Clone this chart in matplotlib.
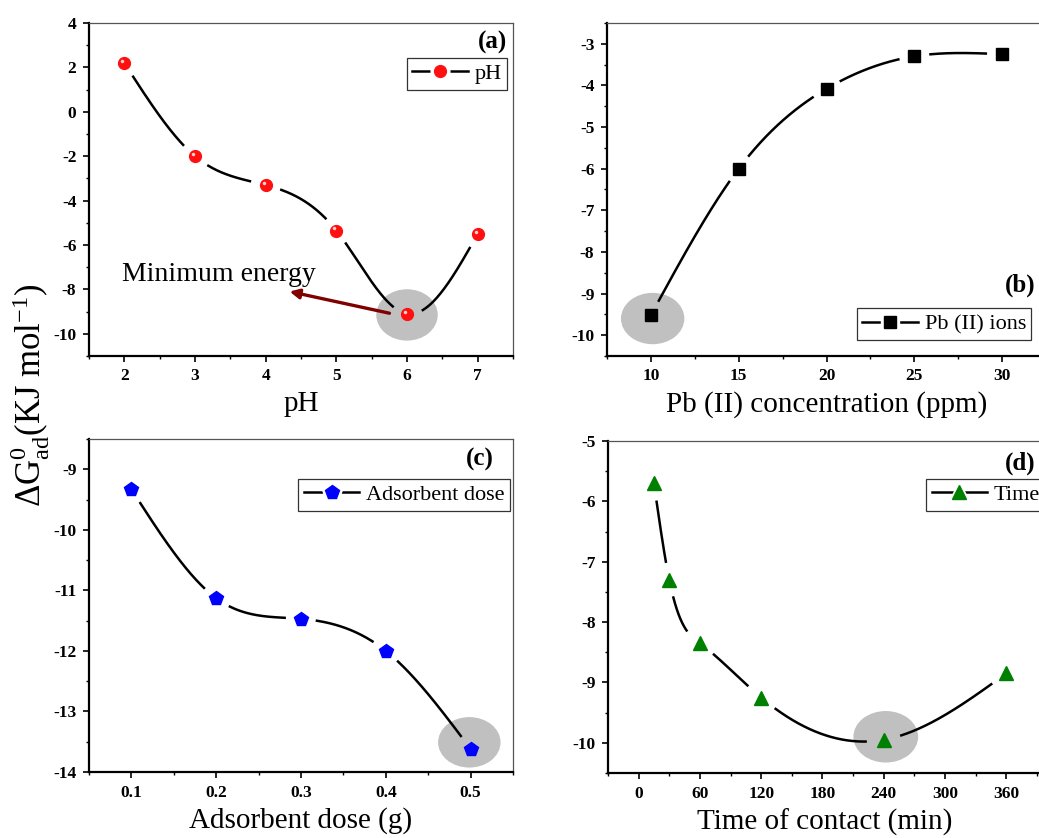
import numpy as np
import matplotlib.pyplot as plt
import matplotlib.transforms as mtransforms
from matplotlib.patches import Ellipse
from matplotlib.lines import Line2D

plt.rcParams['font.family'] = 'Liberation Serif'
plt.rcParams['mathtext.fontset'] = 'custom'
plt.rcParams['mathtext.rm'] = 'Liberation Serif'
plt.rcParams['mathtext.it'] = 'Liberation Serif:italic'
plt.rcParams['mathtext.bf'] = 'Liberation Serif:bold'
plt.rcParams['axes.unicode_minus'] = False

# dados
ph = [2, 3, 4, 5, 6, 7]
g_ph = [2.2, -2.0, -3.3, -5.35, -9.1, -5.5]

pb = [10, 15, 20, 25, 30]
g_pb = [-9.52, -6.0, -4.08, -3.3, -3.25]

dose = [0.1, 0.2, 0.3, 0.4, 0.5]
g_dose = [-9.33, -11.13, -11.47, -12.0, -13.62]

tempo = [15, 30, 60, 120, 240, 360]
g_tempo = [-5.7, -7.3, -8.35, -9.25, -9.95, -8.85]


def spline(x, y, n=800):
    # spline cúbica natural
    x = np.asarray(x, float)
    y = np.asarray(y, float)
    m = len(x)
    h = np.diff(x)
    A = np.zeros((m, m))
    b = np.zeros(m)
    A[0, 0] = A[-1, -1] = 1
    for i in range(1, m - 1):
        A[i, i - 1] = h[i - 1]
        A[i, i] = 2 * (h[i - 1] + h[i])
        A[i, i + 1] = h[i]
        b[i] = 6 * ((y[i + 1] - y[i]) / h[i] - (y[i] - y[i - 1]) / h[i - 1])
    M = np.linalg.solve(A, b)
    xs = np.linspace(x[0], x[-1], n)
    k = np.clip(np.searchsorted(x, xs) - 1, 0, m - 2)
    t0 = xs - x[k]
    t1 = x[k + 1] - xs
    hk = h[k]
    ys = (M[k] * t1 ** 3 + M[k + 1] * t0 ** 3) / (6 * hk) \
        + (y[k] / hk - M[k] * hk / 6) * t1 + (y[k + 1] / hk - M[k + 1] * hk / 6) * t0
    return xs, ys


def painel(ax, x, y, marker, cor, ms, rotulo, leg_loc, leg_anchor, letra, letra_pos, letra_va, gap=16):
    xs, ys = spline(x, y)
    # abre um espaço na linha em volta de cada símbolo (como no Origin)
    tela = ax.transData.transform(np.column_stack([xs, ys]))
    pts_tela = ax.transData.transform(np.column_stack([x, y]))
    dist = np.min(np.hypot(tela[:, None, 0] - pts_tela[None, :, 0],
                           tela[:, None, 1] - pts_tela[None, :, 1]), axis=1)
    ys = np.where(dist < gap, np.nan, ys)
    ax.plot(xs, ys, color='black', lw=1.8, zorder=2)
    pts, = ax.plot(x, y, ls='none', marker=marker, ms=ms, color=cor, mec=cor, zorder=4)
    h_linha = Line2D([], [], color='black', lw=1.8)
    h_branco = Line2D([], [], ls='none', marker=marker, ms=ms + 5, color='white', mec='white')
    h_pts = Line2D([], [], ls='none', marker=marker, ms=ms, color=cor, mec=cor)
    ax.legend([(h_linha, h_branco, h_pts)], [rotulo], loc=leg_loc, bbox_to_anchor=leg_anchor,
              fontsize=16, frameon=True, fancybox=False, edgecolor='black',
              borderaxespad=0, handlelength=2.5, borderpad=0.25, handletextpad=0.3)
    ax.get_legend().get_frame().set_linewidth(0.9)
    ax.text(letra_pos[0], letra_pos[1], letra, transform=ax.transAxes, ha='right', va=letra_va,
            fontsize=18, fontweight='bold')
    ax.tick_params(which='major', direction='out', length=4, width=1.2, labelsize=12.5, pad=5)
    ax.tick_params(which='minor', direction='out', length=2.5, width=1.0)
    for lab in ax.get_xticklabels() + ax.get_yticklabels():
        lab.set_fontweight('bold')
    for s in ['left', 'bottom']:
        ax.spines[s].set_linewidth(1.6)
    for s in ['top', 'right']:
        ax.spines[s].set_linewidth(0.9)
        ax.spines[s].set_color('#555555')
    return pts


W, H = 1039, 838
fig = plt.figure(figsize=(W / 100, H / 100), dpi=100)

def eixo(x0, y0, x1, y1):
    return fig.add_axes([x0 / W, 1 - y1 / H, (x1 - x0) / W, (y1 - y0) / H])

ax_a = eixo(89, 23, 513, 356)
ax_b = eixo(607, 23, 1046, 356)
ax_c = eixo(89, 439, 513, 772)
ax_d = eixo(608, 441, 1042, 773)

# (a) pH
ax_a.set_xlim(1.5, 7.5)
ax_a.set_ylim(-11, 4)
ax_a.set_xticks([2, 3, 4, 5, 6, 7])
ax_a.set_xticks(np.arange(1.5, 7.6, 0.5), minor=True)
ax_a.set_yticks(np.arange(-10, 5, 2))
ax_a.set_yticks(np.arange(-11, 5, 1), minor=True)
ax_a.add_patch(Ellipse((6, -9.15), 0.85, 2.25, color='#c0c0c0', zorder=1))
painel(ax_a, ph, g_ph, 'o', '#ff1010', 8.5, 'pH', 'upper right', (0.986, 0.895),
       '(a)', (0.986, 0.975), 'top')
# brilho das esferas
brilho = mtransforms.offset_copy(ax_a.transData, fig=fig, x=-1.5, y=1.5, units='points')
ax_a.plot(ph, g_ph, ls='none', marker='o', ms=2.5, color='#ffd0d0', mec='none',
          transform=brilho, zorder=5)
ax_a.annotate('', xy=(4.3, -8.07), xytext=(5.79, -9.1),
              arrowprops=dict(arrowstyle='-|>', color='#800000', lw=2.4, mutation_scale=14))
ax_a.text(1.97, -7.6, 'Minimum energy', fontsize=20)
ax_a.set_xlabel('pH', fontsize=21, labelpad=5)

# (b) Pb (II)
ax_b.set_xlim(7.5, 32.5)
ax_b.set_ylim(-10.5, -2.5)
ax_b.set_xticks([10, 15, 20, 25, 30])
ax_b.set_xticks(np.arange(7.5, 33, 2.5), minor=True)
ax_b.set_yticks(np.arange(-10, -2.5, 1))
ax_b.set_yticks(np.arange(-10.5, -2.4, 0.5), minor=True)
ax_b.add_patch(Ellipse((10.1, -9.6), 3.53, 1.2, color='#c0c0c0', zorder=1))
painel(ax_b, pb, g_pb, 's', 'black', 8, 'Pb (II) ions', 'lower left', (0.569, 0.048),
       '(b)', (0.975, 0.213), 'center')
ax_b.set_xlabel('Pb (II) concentration (ppm)', fontsize=21, labelpad=5)

# (c) dose
ax_c.set_xlim(0.05, 0.55)
ax_c.set_ylim(-14, -8.5)
ax_c.set_xticks([0.1, 0.2, 0.3, 0.4, 0.5])
ax_c.set_xticks(np.arange(0.05, 0.56, 0.05), minor=True)
ax_c.set_yticks(np.arange(-14, -8.5, 1))
ax_c.set_yticks(np.arange(-14, -8.4, 0.5), minor=True)
ax_c.add_patch(Ellipse((0.4985, -13.51), 0.072, 0.81, color='#c0c0c0', zorder=1))
painel(ax_c, dose, g_dose, 'p', '#0000ff', 10.5, 'Adsorbent dose', 'upper right', (0.993, 0.88),
       '(c)', (0.955, 0.94), 'center')
ax_c.set_xlabel('Adsorbent dose (g)', fontsize=21, labelpad=5)

# (d) tempo
ax_d.set_xlim(-25, 395)
ax_d.set_ylim(-10.5, -5)
ax_d.set_xticks([0, 60, 120, 180, 240, 300, 360])
ax_d.set_xticks(np.arange(-30, 400, 30), minor=True)
ax_d.set_yticks(np.arange(-10, -4.5, 1))
ax_d.set_yticks(np.arange(-10.5, -4.9, 0.5), minor=True)
ax_d.add_patch(Ellipse((242, -9.9), 62, 0.83, color='#c0c0c0', zorder=1))
painel(ax_d, tempo, g_tempo, '^', '#008000', 10.5, 'Time', 'upper left', (0.733, 0.886),
       '(d)', (0.984, 0.934), 'center', gap=18)
ax_d.set_xlabel('Time of contact (min)', fontsize=21, labelpad=5)

fig.text(30 / W, 1 - 395 / H, r'ΔG$^{0}_{\mathrm{ad}}$(KJ mol$^{-1}$)', rotation=90,
         ha='center', va='center', fontsize=25)

plt.savefig('out.png', dpi=100)
